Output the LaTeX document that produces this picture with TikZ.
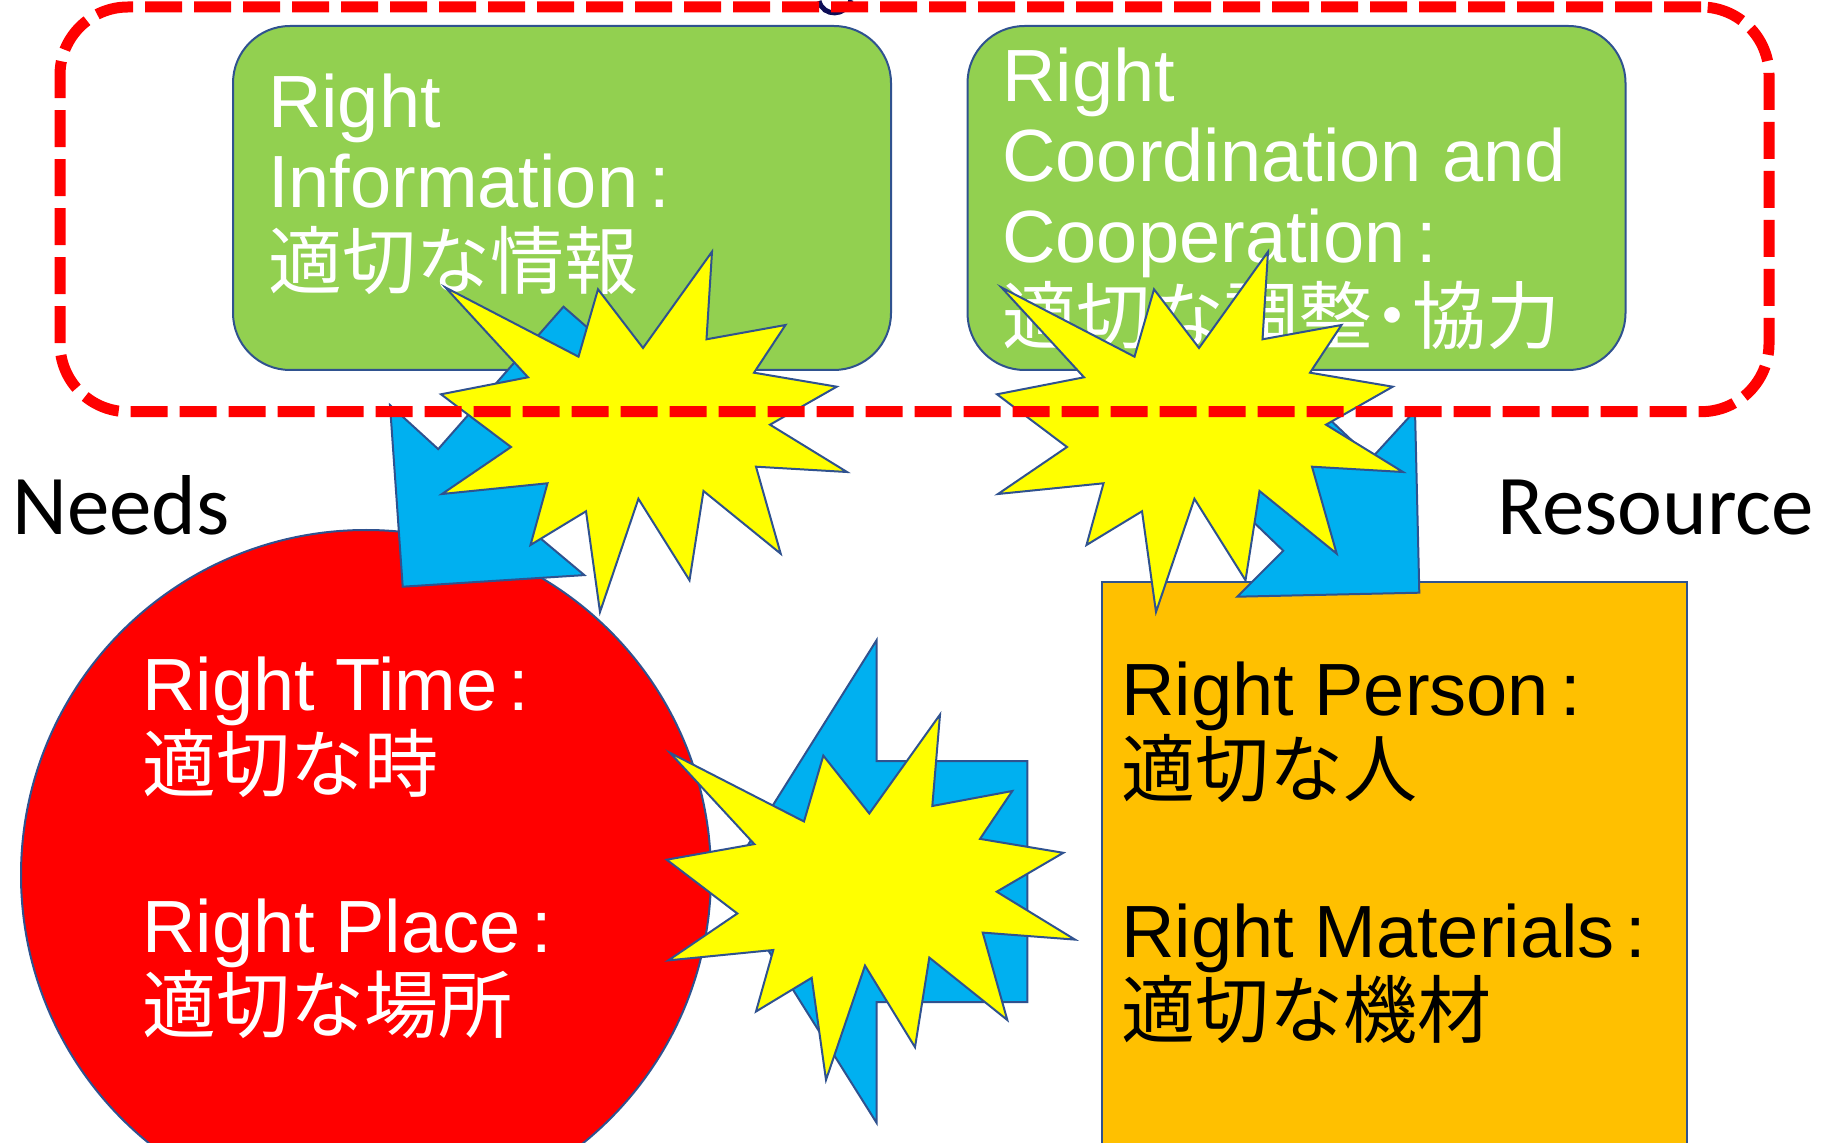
\documentclass[tikz,border=0pt]{standalone}
\usepackage{fontspec}
\setmainfont{Liberation Sans}
\newfontfamily\jp{Noto Sans CJK JP}
\newfontfamily\cali{Carlito}
\setlength{\lineskiplimit}{-100pt}
\definecolor{boxgreen}{HTML}{92D050}
\definecolor{needred}{HTML}{FF0000}
\definecolor{resorange}{HTML}{FFC000}
\definecolor{arrowblue}{HTML}{00B0F0}
\definecolor{burstyellow}{HTML}{FFFF00}
\definecolor{edgeblue}{HTML}{2F528F}
\definecolor{inknavy}{HTML}{0D0D55}

\begin{document}
\begin{tikzpicture}[
    x=0.5pt, y=-0.5pt,
    greenbox/.style={rectangle, draw=edgeblue, line width=1pt, fill=boxgreen, rounded corners=28.5pt, minimum width=329pt, minimum height=172pt, inner sep=0pt},
    needcircle/.style={circle, draw=edgeblue, line width=1pt, fill=needred, minimum size=345pt, inner sep=0pt},
    resbox/.style={rectangle, draw=edgeblue, line width=1pt, fill=resorange, minimum width=292.5pt, minimum height=350pt, inner sep=0pt},
    boxtext/.style={anchor=north west, align=left, inner sep=0pt, font=\fontsize{37}{40.3}\selectfont},
    sidetext/.style={anchor=base west, inner sep=0pt, font=\cali\fontsize{42.5}{48}\selectfont},
    blockarrow/.style={draw=edgeblue, line width=1pt, fill=arrowblue, line join=miter},
    burst/.style={draw=edgeblue, line width=1pt, fill=burstyellow, line join=miter},
    dashframe/.style={rectangle, draw=needred, line width=5.5pt, rounded corners=34pt, dash pattern=on 18.5pt off 6pt, minimum width=854.5pt, minimum height=202.35pt, inner sep=0pt}
]
\useasboundingbox (0,0) rectangle (1824,1143);
\clip (0,0) rectangle (1824,1143);

% Right information / coordination
\node[greenbox] (info) at (562,198) {};
\node[boxtext, text=white] (infotext) at (267.6,73) {Right\\Information\kern0.15em:\\{\jp 適切な情報}};
\node[greenbox] (coop) at (1296.5,198) {};
\node[boxtext, text=white] (cooptext) at (1002,47.3) {Right\\Coordination and\\Cooperation\kern0.15em:\\{\jp 適切な調整\kern-0.23em・\kern-0.23em協力}};

% Needs
\node[needcircle] (needs) at (366,875) {};
\node[boxtext, text=white] (needstext) at (142,656.5) {Right Time\kern0.15em:\\{\jp 適切な時}\\[40.3pt]Right Place\kern0.15em:\\{\jp 適切な場所}};
\node[sidetext] (needslabel) at (12,535) {Needs};

% Resource
\node[resbox] (res) at (1394.5,932) {};
\node[boxtext, text=black] (restext) at (1121,661.5) {Right Person\kern0.15em:\\{\jp 適切な人}\\[40.3pt]Right Materials\kern0.15em:\\{\jp 適切な機材}};
\node[sidetext] (reslabel) at (1497,535) {Resource};

% Arrows
\draw[blockarrow] (402.7,586.7) -- (584.3,575.1) -- (534.3,533.2) -- (658.6,389.9) -- (563.5,306.7) -- (438.2,449.1) -- (390,405.1) -- cycle;
\draw[blockarrow] (1419.3,592.7) -- (1237.3,596.7) -- (1283.2,550.7) -- (1146.1,418.6) -- (1233,327.7) -- (1371.1,458.7) -- (1415,410.7) -- cycle;
\draw[blockarrow] (725,881.5) -- (876.7,640) -- (876.7,761) -- (1027.3,761) -- (1027.3,1002) -- (876.7,1002) -- (876.7,1123) -- cycle;

% Bursts
\draw[burst] (445.5,287.5) -- (578.5,356.7) -- (598,289.3) -- (643,348) -- (712,251.7) -- (706.5,339.3) -- (785.5,325) -- (754,372.7) -- (836.7,386.7) -- (770,424.7) -- (847,472) -- (756,466.7) -- (780.7,553.7) -- (703.5,491) -- (689.5,580.3) -- (638.4,498.8) -- (600,612) -- (586,511.3) -- (530.5,545) -- (547.5,483.3) -- (442,494) -- (511,447) -- (441,394.3) -- (528,377.3) -- cycle;
\draw[burst, shift={(556,0)}] (445.5,287.5) -- (578.5,356.7) -- (598,289.3) -- (643,348) -- (712,251.7) -- (706.5,339.3) -- (785.5,325) -- (754,372.7) -- (836.7,386.7) -- (770,424.7) -- (847,472) -- (756,466.7) -- (780.7,553.7) -- (703.5,491) -- (689.5,580.3) -- (638.4,498.8) -- (600,612) -- (586,511.3) -- (530.5,545) -- (547.5,483.3) -- (442,494) -- (511,447) -- (441,394.3) -- (528,377.3) -- cycle;
\draw[burst] (670,752.8) -- (804,821.5) -- (823.3,755.6) -- (869.3,813.5) -- (940,714.6) -- (932.3,806) -- (1012.3,791) -- (980,838.9) -- (1063.3,852.8) -- (996.7,891.7) -- (1075,939.6) -- (982.7,932.6) -- (1007.3,1020) -- (929.3,957.6) -- (915,1047.2) -- (865,965.6) -- (826,1079.9) -- (811.7,977.8) -- (756,1011.5) -- (773.3,950) -- (668.3,960.4) -- (737.3,913.5) -- (666.7,859.7) -- (754.3,844.1) -- cycle;

% Frame
\draw[inknavy, line width=2.5pt] (819,1) .. controls (823,17) and (846,17) .. (851,0);
\node[dashframe] (frame) at (914.5,209.35) {};

\end{tikzpicture}
\end{document}
